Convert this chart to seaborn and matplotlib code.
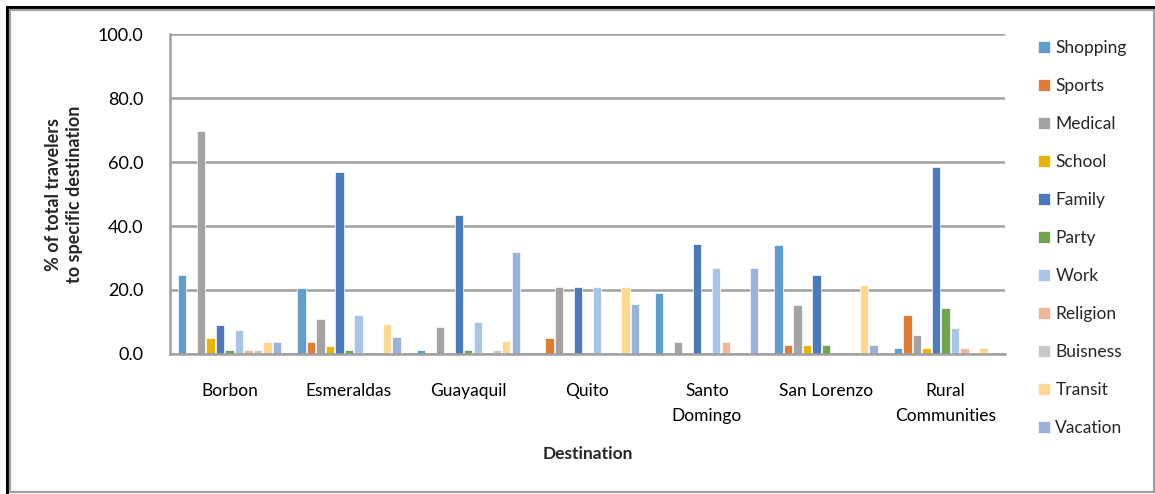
import matplotlib
matplotlib.use("Agg")
import matplotlib.pyplot as plt
import matplotlib.lines as mlines
import seaborn as sns
import pandas as pd

# Trip purpose shares (%) per destination
destinations = ["Borbon", "Esmeraldas", "Guayaquil", "Quito",
                "Santo\nDomingo", "San Lorenzo", "Rural\nCommunities"]
purposes = ["Shopping", "Sports", "Medical", "School", "Family", "Party",
            "Work", "Religion", "Buisness", "Transit", "Vacation"]

shopping = [24.8, 20.6, 1.2, 0.0, 19.0, 34.2, 1.9]
sports = [0.0, 3.9, 0.0, 5.0, 0.0, 2.9, 12.3]
medical = [69.8, 10.9, 8.5, 20.9, 3.6, 15.4, 6.0]
school = [5.0, 2.6, 0.0, 0.0, 0.0, 2.9, 1.9]
family = [9.2, 56.9, 43.3, 20.9, 34.5, 24.8, 58.3]
party = [1.1, 1.1, 1.2, 0.0, 0.0, 2.9, 14.4]
work = [7.6, 12.3, 10.0, 20.9, 26.9, 0.0, 8.1]
religion = [1.1, 0.0, 0.0, 0.0, 3.6, 0.0, 1.9]
buisness = [1.1, 0.0, 1.2, 0.0, 0.0, 0.0, 0.0]
transit = [3.7, 9.5, 4.2, 20.9, 0.0, 21.7, 1.9]
vacation = [3.7, 5.3, 31.8, 15.6, 26.9, 2.9, 0.0]

series = [shopping, sports, medical, school, family, party,
          work, religion, buisness, transit, vacation]

colors = ["#5f9dcc", "#e07c35", "#a3a3a3", "#e8b600", "#4a79bd", "#6fa54c",
          "#a7c6e6", "#f3b59a", "#c9c9c9", "#ffd890", "#9cb0dc"]

rows = []
for purpose, vals in zip(purposes, series):
    for dest, v in zip(destinations, vals):
        rows.append({"Destination": dest, "Purpose": purpose, "Value": v})
df = pd.DataFrame(rows)

sns.set_theme(style="white")
plt.rcParams["font.family"] = ["Lato", "DejaVu Sans"]

fig = plt.figure(figsize=(11.55, 4.94), dpi=100)
W, H = 1155, 494
ax = fig.add_axes([170 / W, 1 - 354 / H, (1005 - 170) / W, (354 - 34) / H])

sns.barplot(data=df, x="Destination", y="Value", hue="Purpose",
            order=destinations, hue_order=purposes, palette=colors,
            saturation=1, width=0.876, gap=0.12, errorbar=None,
            edgecolor="white", linewidth=0.5, ax=ax, zorder=3)

grid_col = "#a0a0a0"
ax.set_ylim(0, 100)
ax.set_xlim(-0.5, len(destinations) - 0.5)
ax.set_yticks([0, 20, 40, 60, 80, 100])
ax.set_yticklabels([f"{t:.1f}" for t in [0, 20, 40, 60, 80, 100]], fontsize=13)
ax.yaxis.grid(True, color=grid_col, linewidth=1.8, zorder=0)
ax.set_axisbelow(True)
ax.tick_params(axis="both", length=0, colors="black")
ax.tick_params(axis="y", pad=19)
ax.tick_params(axis="x", pad=21, labelsize=12.5)
for lbl in ax.get_xticklabels():
    lbl.set_linespacing(1.7)
for side in ["top", "right"]:
    ax.spines[side].set_visible(False)
for side in ["left", "bottom"]:
    ax.spines[side].set_color(grid_col)
    ax.spines[side].set_linewidth(1.8)
    ax.spines[side].set_zorder(5)

ax.set_ylabel("")
ax.set_xlabel("Destination", fontsize=12.5, fontweight="bold", labelpad=16)
fig.text(64 / W, 1 - 194 / H, "% of total travelers\nto specific destination",
         rotation=90, ha="center", va="center", fontsize=13,
         fontweight="bold", linespacing=1.3)

handles, labels = ax.get_legend_handles_labels()
ax.get_legend().remove()
fig.legend(handles, labels, loc="upper left",
           bbox_to_anchor=(1031 / W, 1 - 33 / H), frameon=False,
           fontsize=12.5, handlelength=0.7, handleheight=0.7,
           handletextpad=0.3, labelspacing=1.27, borderaxespad=0)

# Chart frame
fig.add_artist(mlines.Line2D([7 / W, 7 / W], [0, 1 - 7 / H], color="black",
                             linewidth=2.2, transform=fig.transFigure))
fig.add_artist(mlines.Line2D([7 / W, 1], [1 - 7 / H, 1 - 7 / H], color="black",
                             linewidth=2.2, transform=fig.transFigure))
frame_x = [10 / W, 1153.5 / W, 1153.5 / W, 10 / W, 10 / W]
frame_y = [1 - 10.5 / H, 1 - 10.5 / H, 1 - 491.5 / H, 1 - 491.5 / H, 1 - 10.5 / H]
fig.add_artist(mlines.Line2D(frame_x, frame_y, color=grid_col, linewidth=1.6,
                             transform=fig.transFigure))

fig.savefig("out.png", dpi=100)
